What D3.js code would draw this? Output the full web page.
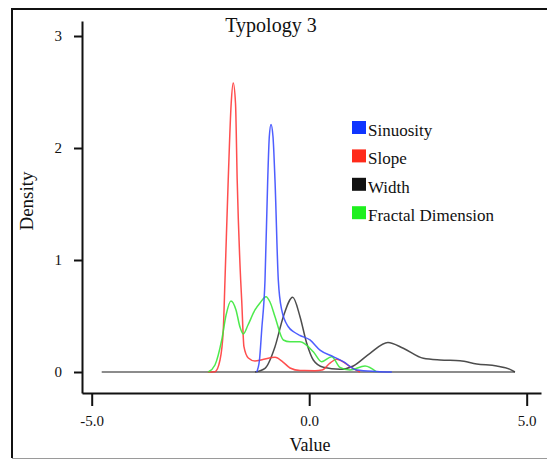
<!DOCTYPE html>
<html lang="en">
<head>
<meta charset="UTF-8">
<title>Typology 3</title>
<script src="https://cdn.jsdelivr.net/npm/d3@7"></script>
<style>
  body { margin: 0; background: #fff; }
  text { font-family: "Liberation Serif", "Times New Roman", serif; fill: #111; }
</style>
</head>
<body>
<script>
// density estimates: [value, density]
const sinuosity = [
  [-1.207, 0], [-1.143, 0.107], [-1.092, 0.375], [-1.016, 0.82], [-0.954, 1.71],
  [-0.917, 2.1], [-0.878, 2.21], [-0.832, 2.1], [-0.786, 1.71], [-0.71, 0.82],
  [-0.632, 0.554], [-0.48, 0.404], [-0.349, 0.357], [-0.211, 0.326], [0.018, 0.286],
  [0.248, 0.196], [0.554, 0.137], [0.784, 0.092], [1.092, 0.018], [1.55, 0.005], [1.9, 0]
];
const slope = [
  [-2.33, 0], [-2.165, 0.003], [-2.05, 0.107], [-1.975, 0.375], [-1.936, 0.82],
  [-1.862, 1.71], [-1.793, 2.4], [-1.747, 2.58], [-1.694, 2.4], [-1.655, 1.71],
  [-1.575, 0.82], [-1.552, 0.643], [-1.5, 0.226], [-1.4, 0.125], [-1.246, 0.098],
  [-1.085, 0.11], [-0.786, 0.131], [-0.602, 0.089], [-0.441, 0.036], [-0.21, 0.013],
  [0.133, 0.012], [0.294, 0.018], [0.478, 0.08], [0.632, 0.113], [0.823, 0.08],
  [0.984, 0.036], [1.168, 0]
];
const width = [
  [-1.246, 0], [-1.016, 0.033], [-0.786, 0.226], [-0.595, 0.494], [-0.379, 0.667],
  [-0.211, 0.494], [-0.057, 0.256], [0.094, 0.107], [0.324, 0.042], [0.708, 0.024],
  [1.014, 0.054], [1.398, 0.167], [1.81, 0.263], [2.163, 0.212], [2.623, 0.122],
  [3.007, 0.107], [3.467, 0.101], [3.851, 0.071], [4.31, 0.054], [4.616, 0.024], [4.73, 0]
];
const fractalDimension = [
  [-2.32, 0], [-2.166, 0.0625], [-2.011, 0.286], [-1.91, 0.51], [-1.8, 0.634],
  [-1.683, 0.554], [-1.59, 0.4], [-1.515, 0.34], [-1.407, 0.42], [-1.246, 0.554],
  [-1.131, 0.616], [-0.993, 0.672], [-0.901, 0.625], [-0.786, 0.494], [-0.595, 0.286],
  [-0.441, 0.27], [-0.211, 0.27], [0.094, 0.181], [0.287, 0.092], [0.517, 0.137],
  [0.708, 0.042], [0.938, 0.018], [1.283, 0.054], [1.552, 0]
];
const densityRange = [-4.77, 4.73];

const seriesNames = ['Sinuosity', 'Slope', 'Width', 'Fractal Dimension'];
const seriesColors = ['#0f35ff', '#ff2a1a', '#111111', '#1ef01e'];
const lineColors = ['#3b4cff', '#ff3b3b', '#3a3a3a', '#3ae83a'];
const seriesData = [sinuosity, slope, width, fractalDimension];

const xTicks = [-5, 0, 5];
const yTicks = [0, 1, 2, 3];

const W = 547, H = 459;

const svg = d3.select('body').append('svg')
  .attr('width', W)
  .attr('height', H);

// outer frame
svg.append('path')
  .attr('d', 'M12,458 L12,9 L560,9')
  .attr('fill', 'none')
  .attr('stroke', '#111')
  .attr('stroke-width', 2);
svg.append('line')
  .attr('x1', 12).attr('x2', W)
  .attr('y1', 458.5).attr('y2', 458.5)
  .attr('stroke', '#9a9a9a')
  .attr('stroke-width', 1);

const x = d3.scaleLinear().domain([-5.223, 5.329]).range([82, 541]);
const y = d3.scaleLinear().domain([-0.1875, 3.134]).range([393, 21]);

const xAxis = d3.axisBottom(x)
  .tickValues(xTicks)
  .tickFormat(d => d.toFixed(1))
  .tickSizeInner(13)
  .tickSizeOuter(0)
  .tickPadding(9);

const yAxis = d3.axisLeft(y)
  .tickValues(yTicks)
  .tickFormat(d3.format('d'))
  .tickSizeInner(8)
  .tickSizeOuter(0)
  .tickPadding(12);

const gx = svg.append('g')
  .attr('transform', 'translate(0,' + y.range()[0] + ')')
  .call(xAxis);
const gy = svg.append('g')
  .attr('transform', 'translate(' + x.range()[0] + ',0)')
  .call(yAxis);

[gx, gy].forEach(function (g) {
  g.select('.domain').attr('stroke', '#111').attr('stroke-width', 2);
  g.selectAll('.tick line').attr('stroke', '#111').attr('stroke-width', 2);
  g.selectAll('.tick text')
    .attr('font-family', '"Liberation Serif", serif')
    .attr('font-size', 15)
    .attr('fill', '#222');
});

// zero line under the densities
svg.append('line')
  .attr('x1', x(densityRange[0]))
  .attr('x2', x(densityRange[1]))
  .attr('y1', y(0))
  .attr('y2', y(0))
  .attr('stroke', '#666')
  .attr('stroke-width', 1.6);

const line = d3.line()
  .x(d => x(d[0]))
  .y(d => y(d[1]))
  .curve(d3.curveMonotoneX);

const order = [2, 1, 3, 0];
order.forEach(function (i) {
  svg.append('path')
    .datum(seriesData[i])
    .attr('d', line)
    .attr('fill', 'none')
    .attr('stroke', lineColors[i])
    .attr('stroke-width', 1.5)
    .attr('stroke-opacity', 0.9);
});

// titles
svg.append('text')
  .attr('x', 271)
  .attr('y', 32)
  .attr('text-anchor', 'middle')
  .attr('font-size', 20)
  .text('Typology 3');

svg.append('text')
  .attr('transform', 'translate(33,201) rotate(-90)')
  .attr('text-anchor', 'middle')
  .attr('font-size', 19)
  .text('Density');

svg.append('text')
  .attr('x', 310)
  .attr('y', 451)
  .attr('text-anchor', 'middle')
  .attr('font-size', 18)
  .text('Value');

// legend
const legend = svg.append('g')
  .attr('transform', 'translate(352,121)');

const items = legend.selectAll('g')
  .data(seriesNames)
  .enter()
  .append('g')
  .attr('transform', (d, i) => 'translate(0,' + (i * 28.4) + ')');

items.append('rect')
  .attr('width', 14)
  .attr('height', 13)
  .attr('fill', (d, i) => seriesColors[i]);

items.append('text')
  .attr('x', 16)
  .attr('y', 15)
  .attr('font-size', 17)
  .text(d => d);
</script>
</body>
</html>
